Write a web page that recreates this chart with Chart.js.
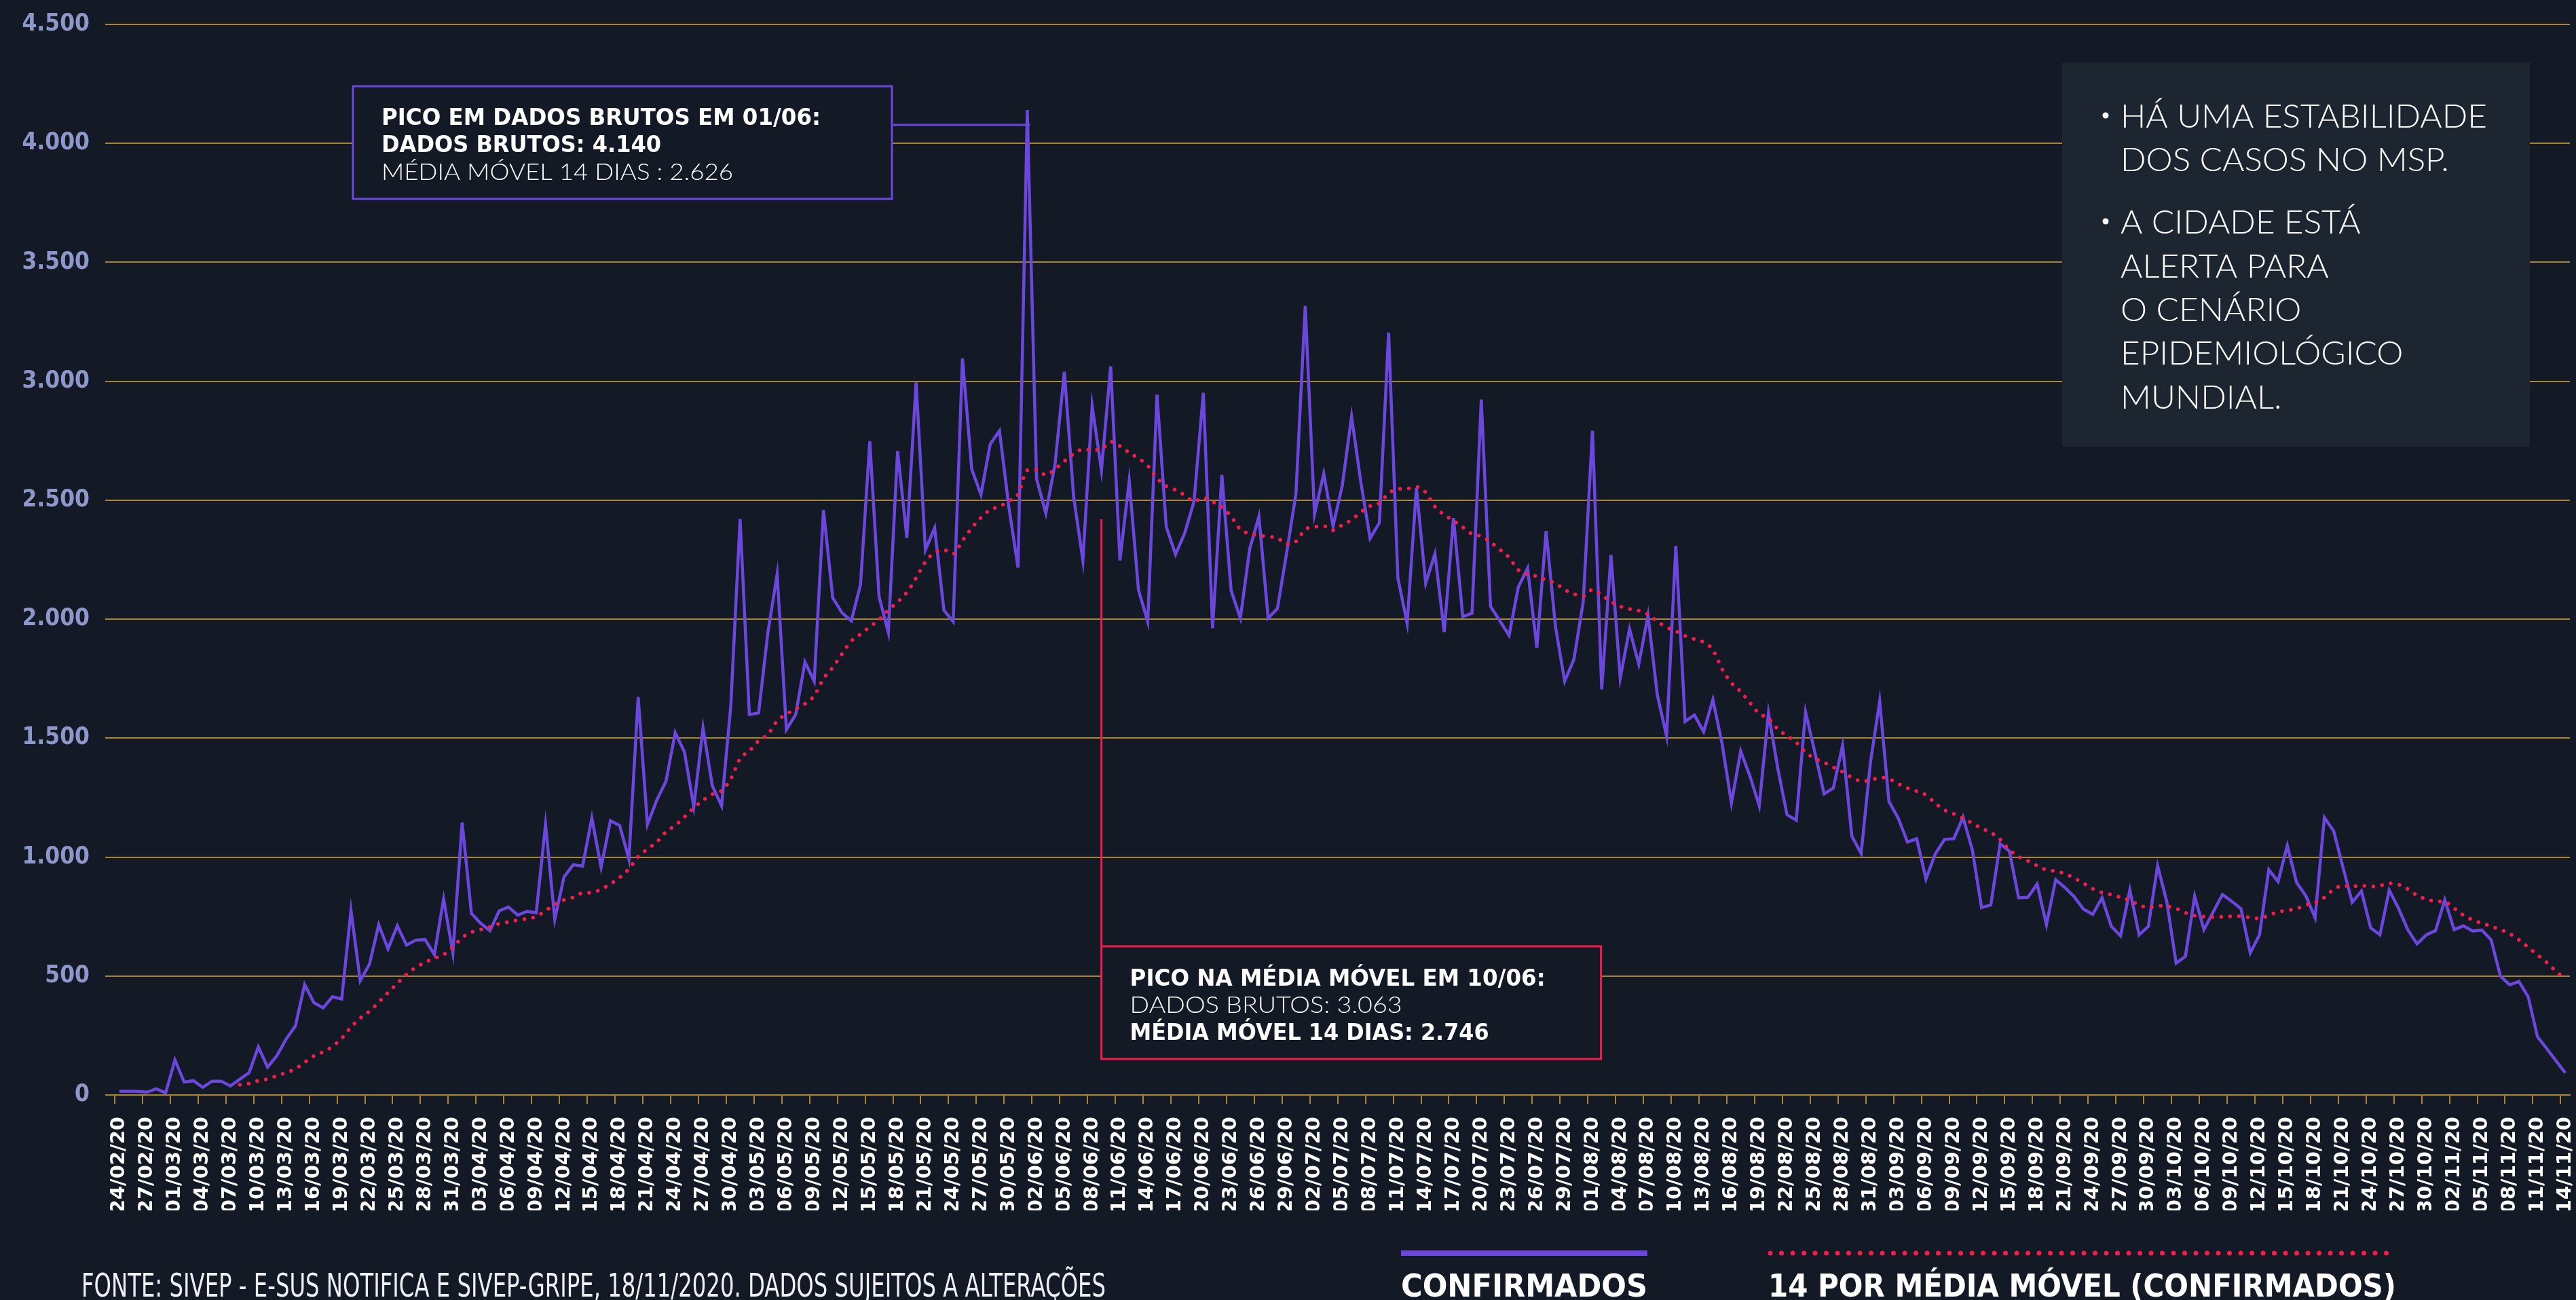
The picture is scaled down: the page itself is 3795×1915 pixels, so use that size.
<!DOCTYPE html>
<html>
<head>
<meta charset="utf-8">
<script src="https://cdn.jsdelivr.net/npm/chart.js@4.4.1/dist/chart.umd.min.js"></script>
<style>
  html, body { margin: 0; padding: 0; background: #131a26; }
  canvas { display: block; }
</style>
</head>
<body>
<canvas id="casosChart" width="3795" height="1915"></canvas>
<script>
// daily confirmed cases, one array per month (starts 24/02/2020)
const confFev = [16, 16, 15, 12, 26, 9];
const confMar = [147, 54, 60, 32, 58, 58, 38, 66, 93, 202, 117, 165, 235, 290, 464, 388, 366, 413, 403, 776, 480, 550, 716, 614, 711, 630, 651, 653, 590, 824, 597];
const confAbr = [1145, 763, 722, 691, 774, 790, 756, 772, 766, 1137, 739, 917, 968, 962, 1164, 957, 1153, 1133, 991, 1673, 1137, 1239, 1318, 1523, 1441, 1212, 1543, 1300, 1216, 1637];
const confMai = [2421, 1599, 1606, 1944, 2189, 1536, 1599, 1820, 1739, 2459, 2090, 2027, 1993, 2146, 2748, 2095, 1944, 2707, 2342, 2995, 2291, 2383, 2038, 1990, 3096, 2631, 2524, 2736, 2792, 2474, 2217];
const confJun = [4140, 2590, 2446, 2653, 3040, 2515, 2247, 2897, 2626, 3063, 2247, 2582, 2123, 1990, 2944, 2388, 2272, 2363, 2496, 2952, 1962, 2606, 2120, 2004, 2294, 2432, 2004, 2045, 2280, 2529];
const confJul = [3317, 2441, 2612, 2391, 2562, 2852, 2576, 2340, 2405, 3205, 2173, 1982, 2552, 2151, 2275, 1946, 2425, 2011, 2025, 2923, 2054, 1993, 1932, 2135, 2214, 1880, 2371, 1971, 1739, 1831, 2072];
const confAgo = [2792, 1705, 2270, 1752, 1959, 1811, 2016, 1682, 1509, 2308, 1570, 1597, 1527, 1662, 1475, 1227, 1446, 1340, 1216, 1606, 1374, 1178, 1155, 1610, 1441, 1266, 1290, 1470, 1088, 1015, 1396];
const confSet = [1655, 1234, 1164, 1063, 1077, 908, 1013, 1074, 1077, 1167, 1031, 788, 799, 1056, 1025, 829, 831, 887, 716, 905, 872, 833, 781, 759, 829, 709, 669, 862, 673, 709];
const confOut = [964, 811, 554, 583, 835, 695, 769, 843, 814, 783, 597, 673, 947, 897, 1048, 893, 837, 745, 1166, 1110, 958, 810, 857, 702, 673, 861, 785, 695, 635, 673, 691];
const confNov = [820, 695, 711, 689, 693, 652, 500, 463, 477, 413, 245, 195, 144, 93];

// 14-day moving average
const mediaFev = [null, null, null, null, null, null];
const mediaMar = [null, null, null, null, null, null, null, 43, 48, 60, 67, 81, 94, 110, 137, 164, 181, 204, 238, 285, 323, 352, 390, 430, 469, 507, 536, 558, 574, 590, 621];
const mediaAbr = [661, 684, 695, 706, 720, 727, 735, 741, 750, 775, 800, 820, 831, 849, 851, 865, 887, 914, 950, 1002, 1034, 1063, 1106, 1133, 1169, 1207, 1239, 1264, 1279, 1329];
const mediaMai = [1414, 1446, 1489, 1516, 1572, 1601, 1622, 1644, 1678, 1750, 1797, 1854, 1908, 1937, 1968, 1998, 2038, 2072, 2113, 2173, 2241, 2280, 2291, 2275, 2330, 2383, 2427, 2460, 2474, 2496, 2524];
const mediaJun = [2626, 2629, 2606, 2631, 2664, 2695, 2714, 2711, 2714, 2746, 2728, 2700, 2676, 2645, 2593, 2559, 2543, 2521, 2496, 2510, 2493, 2471, 2432, 2377, 2360, 2352, 2347, 2341, 2316, 2327];
const mediaJul = [2377, 2388, 2391, 2374, 2396, 2418, 2450, 2476, 2488, 2529, 2547, 2549, 2556, 2533, 2473, 2439, 2414, 2387, 2358, 2349, 2324, 2293, 2259, 2207, 2189, 2180, 2164, 2151, 2124, 2106, 2097];
const mediaAgo = [2124, 2101, 2074, 2054, 2043, 2036, 2020, 1991, 1966, 1950, 1930, 1916, 1903, 1871, 1790, 1732, 1696, 1648, 1603, 1583, 1538, 1510, 1482, 1441, 1414, 1398, 1378, 1358, 1335, 1320, 1322];
const mediaSet = [1335, 1329, 1308, 1290, 1277, 1261, 1227, 1198, 1182, 1164, 1142, 1121, 1103, 1074, 1031, 1002, 984, 964, 946, 941, 930, 912, 890, 867, 851, 842, 831, 818, 799, 788];
const mediaOut = [795, 793, 784, 766, 754, 750, 748, 749, 751, 752, 746, 742, 756, 769, 776, 783, 799, 808, 830, 864, 880, 877, 880, 876, 880, 890, 884, 866, 839, 823, 814];
const mediaNov = [812, 785, 756, 736, 722, 709, 695, 678, 652, 621, 589, 557, 520, 487];

const firstDay = [2020, 2, 24];   // year, month, day
const yTicks = [0, 500, 1000, 1500, 2000, 2500, 3000, 3500, 4000, 4500];

const confirmados = [].concat(confFev, confMar, confAbr, confMai, confJun, confJul, confAgo, confSet, confOut, confNov);
const mediaMovel = [].concat(mediaFev, mediaMar, mediaAbr, mediaMai, mediaJun, mediaJul, mediaAgo, mediaSet, mediaOut, mediaNov);

// one category per day, dd/mm/yy
const pad = n => (n < 10 ? '0' : '') + n;
const labels = confirmados.map((_, i) => {
    const d = new Date(Date.UTC(firstDay[0], firstDay[1] - 1, firstDay[2] + i));
    return pad(d.getUTCDate()) + '/' + pad(d.getUTCMonth() + 1) + '/' + String(d.getUTCFullYear()).slice(2);
});

const BG = '#131a26';
const GOLD = '#a9852f';
const PURPLE = '#6c47de';
const RED = '#f41c4c';

const fmtNum = v => String(v).replace(/\B(?=(\d{3})+(?!\d))/g, '.');

// draw text squeezed to a given width (the original uses condensed faces)
function fitText(ctx, text, x, y, width, font, color) {
    ctx.save();
    ctx.font = font;
    ctx.fillStyle = color;
    ctx.textBaseline = 'alphabetic';
    ctx.textAlign = 'left';
    const w = ctx.measureText(text).width;
    ctx.translate(x, y);
    ctx.scale(width / w, 1);
    ctx.fillText(text, 0, 0);
    ctx.restore();
}

const overlay = {
    id: 'overlay',
    beforeDraw(chart) {
        const ctx = chart.ctx;
        ctx.save();
        ctx.fillStyle = BG;
        ctx.fillRect(0, 0, chart.width, chart.height);
        ctx.restore();
    },
    afterDraw(chart) {
        const ctx = chart.ctx;
        const xs = chart.scales.x;
        const ys = chart.scales.y;
        const boldF = 'bold 33px "DejaVu Sans"';
        const lightF = '300 34px Lato';

        // box 1 - peak in raw data
        const peakX = xs.getPixelForValue(98);
        ctx.save();
        ctx.strokeStyle = PURPLE;
        ctx.lineWidth = 3;
        ctx.beginPath();
        ctx.moveTo(1314, 184);
        ctx.lineTo(peakX + 4, 184);
        ctx.stroke();
        ctx.fillStyle = BG;
        ctx.fillRect(520, 127, 794, 166);
        ctx.strokeRect(520, 127, 794, 166);
        ctx.restore();
        fitText(ctx, 'PICO EM DADOS BRUTOS EM 01/06:', 562, 184, 647, boldF, '#fff');
        fitText(ctx, 'DADOS BRUTOS: 4.140', 562, 224, 412, boldF, '#fff');
        fitText(ctx, 'MÉDIA MÓVEL 14 DIAS : 2.626', 562, 265, 518, lightF, '#fff');

        // box 2 - peak in moving average
        const bx = xs.getPixelForValue(106);
        ctx.save();
        ctx.strokeStyle = RED;
        ctx.lineWidth = 3;
        ctx.beginPath();
        ctx.moveTo(bx, ys.getPixelForValue(2420));
        ctx.lineTo(bx, 1394);
        ctx.stroke();
        ctx.fillStyle = BG;
        ctx.fillRect(bx, 1394, 736, 166);
        ctx.strokeRect(bx, 1394, 736, 166);
        ctx.restore();
        fitText(ctx, 'PICO NA MÉDIA MÓVEL EM 10/06:', bx + 42, 1452, 612, boldF, '#fff');
        fitText(ctx, 'DADOS BRUTOS: 3.063', bx + 42, 1492, 401, lightF, '#fff');
        fitText(ctx, 'MÉDIA MÓVEL 14 DIAS: 2.746', bx + 42, 1532, 529, boldF, '#fff');

        // notes box
        ctx.save();
        ctx.fillStyle = '#1d2530';
        ctx.fillRect(3038, 92, 689, 566);
        ctx.fillStyle = '#fff';
        ctx.font = '300 48px Lato';
        const notes = [
            ['HÁ UMA ESTABILIDADE', 188, true],
            ['DOS CASOS NO MSP.', 252, false],
            ['A CIDADE ESTÁ', 344, true],
            ['ALERTA PARA', 409, false],
            ['O CENÁRIO', 473, false],
            ['EPIDEMIOLÓGICO', 537, false],
            ['MUNDIAL.', 602, false]
        ];
        const sc = 540 / ctx.measureText(notes[0][0]).width;
        notes.forEach(([t, y, bullet]) => {
            ctx.save();
            ctx.translate(3124, y);
            ctx.scale(sc, 1);
            ctx.fillText(t, 0, 0);
            ctx.restore();
            if (bullet) {
                ctx.beginPath();
                ctx.arc(3102, y - 18, 4.5, 0, Math.PI * 2);
                ctx.fill();
            }
        });
        ctx.restore();

        // legend
        ctx.save();
        ctx.fillStyle = PURPLE;
        ctx.fillRect(2064, 1842, 363, 8);
        ctx.strokeStyle = RED;
        ctx.lineWidth = 7;
        ctx.lineCap = 'round';
        ctx.setLineDash([0.1, 16.4]);
        ctx.beginPath();
        ctx.moveTo(2608, 1846);
        ctx.lineTo(3530, 1846);
        ctx.stroke();
        ctx.restore();
        fitText(ctx, 'CONFIRMADOS', 2064, 1910, 363, 'bold 47px "DejaVu Sans"', '#fff');
        fitText(ctx, '14 POR MÉDIA MÓVEL (CONFIRMADOS)', 2605, 1910, 925, 'bold 47px "DejaVu Sans"', '#fff');

        // source
        fitText(ctx, 'FONTE: SIVEP - E-SUS NOTIFICA E SIVEP-GRIPE, 18/11/2020. DADOS SUJEITOS A ALTERAÇÕES', 120, 1910, 1509, '48px "DejaVu Sans"', '#eef0f4');
    }
};

const ctx = document.getElementById('casosChart').getContext('2d');
const chart = new Chart(ctx, {
    type: 'line',
    data: {
        labels: labels,
        datasets: [
            {
                label: 'CONFIRMADOS',
                data: confirmados,
                borderColor: PURPLE,
                borderWidth: 4.5,
                pointRadius: 0,
                tension: 0,
                order: 2
            },
            {
                label: '14 POR MÉDIA MÓVEL (CONFIRMADOS)',
                data: mediaMovel,
                borderColor: RED,
                borderWidth: 5.5,
                borderDash: [0.1, 13],
                borderCapStyle: 'round',
                pointRadius: 0,
                cubicInterpolationMode: 'monotone', // smoother trend line
                order: 1
            }
        ]
    },
    options: {
        responsive: false,
        animation: false,
        devicePixelRatio: 1,
        layout: { padding: { top: 36, right: 9, bottom: 132, left: 0 } },
        plugins: {
            legend: { display: false },
            tooltip: { enabled: false }
        },
        scales: {
            x: {
                offset: true,
                grid: {
                    offset: true,
                    drawOnChartArea: false,
                    drawTicks: true,
                    tickLength: 13,
                    lineWidth: 2,
                    color: c => (c.index % 3 === 0 ? GOLD : 'rgba(0,0,0,0)')
                },
                border: { display: true, color: GOLD, width: 2 },
                ticks: {
                    autoSkip: false,
                    minRotation: 90,
                    maxRotation: 90,
                    padding: 19,
                    color: '#ffffff',
                    font: { family: '"DejaVu Sans"', weight: 'bold', size: 29 },
                    callback: (v, i) => (i % 3 === 0 ? labels[i] : '')
                },
                // fixed axis size, no extra side padding for the rotated labels
                afterFit: s => { s.height = 170; s.paddingLeft = 0; s.paddingRight = 0; }
            },
            y: {
                min: yTicks[0],
                max: yTicks[yTicks.length - 1],
                afterBuildTicks: s => { s.ticks = yTicks.map(v => ({ value: v })); },
                grid: { color: GOLD, lineWidth: 2, drawTicks: true, tickLength: 14 },
                border: { display: false },
                ticks: {
                    padding: 23,
                    color: '#8e97c9',
                    font: { family: '"DejaVu Sans Condensed", "Liberation Sans Narrow", "DejaVu Sans"', weight: 'bold', size: 35 },
                    callback: v => fmtNum(v)
                },
                afterFit: s => { s.width = 169; s.paddingTop = 0; s.paddingBottom = 0; }
            }
        }
    },
    plugins: [overlay]
});
</script>
</body>
</html>
